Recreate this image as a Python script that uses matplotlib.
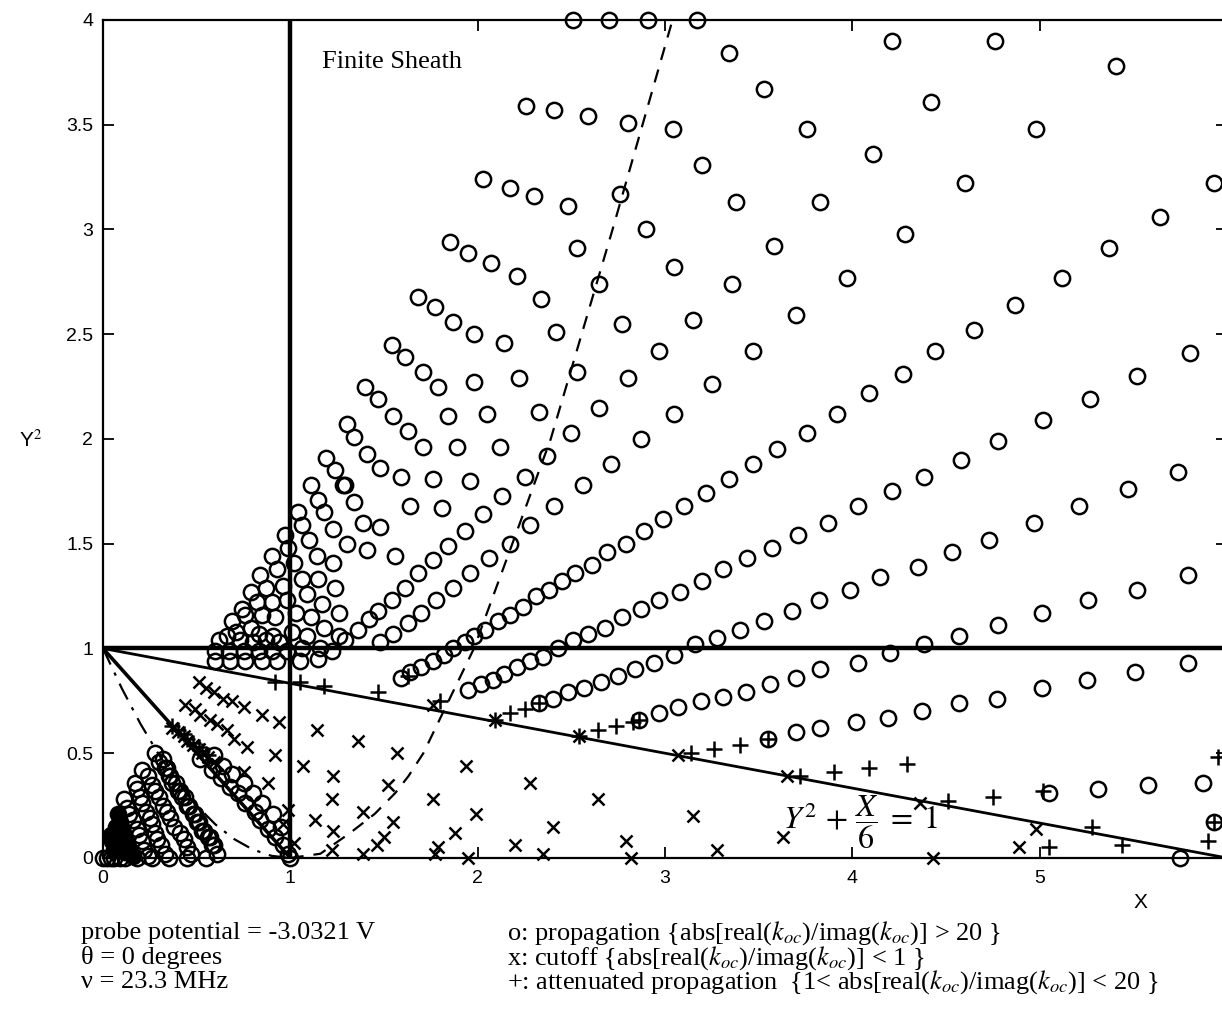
import matplotlib
matplotlib.use("Agg")
import matplotlib.pyplot as plt

plt.rcParams["mathtext.fontset"] = "stix"
SANS = ["Liberation Sans Narrow", "Liberation Sans", "DejaVu Sans"]
SERIF = ["Liberation Serif", "DejaVu Serif"]

# ---- o : propagation, rows rising to the right ----
row0_x = [5.05, 5.31, 5.58, 5.87, 5.93, 5.75]
row0_y = [0.31, 0.33, 0.35, 0.36, 0.17, 0.00]
row1_x = [3.55, 3.70, 3.83, 4.02, 4.19, 4.37, 4.57, 4.77, 5.01, 5.25, 5.51, 5.79]
row1_y = [0.57, 0.60, 0.62, 0.65, 0.67, 0.70, 0.74, 0.76, 0.81, 0.85, 0.89, 0.93]
row2_x = [2.86, 2.97, 3.07, 3.19, 3.31, 3.43, 3.56, 3.70, 3.83, 4.03, 4.20, 4.38,
          4.57, 4.78, 5.01, 5.26, 5.52, 5.79]
row2_y = [0.66, 0.69, 0.72, 0.75, 0.77, 0.79, 0.83, 0.86, 0.90, 0.93, 0.98, 1.02,
          1.06, 1.11, 1.17, 1.23, 1.28, 1.35]
row3_x = [2.33, 2.40, 2.48, 2.57, 2.66, 2.75, 2.84, 2.94, 3.05, 3.16, 3.28, 3.40,
          3.53, 3.68, 3.82, 3.99, 4.15, 4.35, 4.53, 4.73, 4.97, 5.21, 5.47, 5.74]
row3_y = [0.74, 0.76, 0.79, 0.81, 0.84, 0.87, 0.90, 0.93, 0.97, 1.02, 1.05, 1.09,
          1.13, 1.18, 1.23, 1.28, 1.34, 1.39, 1.46, 1.52, 1.60, 1.68, 1.76, 1.84]
row4_x = [1.95, 2.02, 2.08, 2.14, 2.21, 2.28, 2.35, 2.43, 2.51, 2.59, 2.68, 2.77,
          2.87, 2.97, 3.08, 3.20, 3.31, 3.44, 3.57, 3.71, 3.87, 4.03, 4.21, 4.38,
          4.58, 4.78, 5.02, 5.27, 5.52, 5.80]
row4_y = [0.80, 0.83, 0.85, 0.88, 0.91, 0.94, 0.96, 1.00, 1.04, 1.07, 1.10, 1.15,
          1.19, 1.23, 1.27, 1.32, 1.38, 1.43, 1.48, 1.54, 1.60, 1.68, 1.75, 1.82,
          1.90, 1.99, 2.09, 2.19, 2.30, 2.41]
row5_x = [1.59, 1.64, 1.70, 1.76, 1.82, 1.87, 1.93, 1.98, 2.04, 2.11, 2.17, 2.24,
          2.31, 2.38, 2.45, 2.52, 2.61, 2.69, 2.79, 2.89, 2.99, 3.10, 3.22, 3.34,
          3.47, 3.60, 3.76, 3.92, 4.09, 4.27, 4.44, 4.65, 4.87, 5.12, 5.37, 5.64,
          5.93]
row5_y = [0.86, 0.89, 0.91, 0.94, 0.97, 1.00, 1.03, 1.06, 1.09, 1.13, 1.16, 1.20,
          1.25, 1.28, 1.32, 1.36, 1.40, 1.46, 1.50, 1.56, 1.62, 1.68, 1.74, 1.81,
          1.88, 1.95, 2.03, 2.12, 2.22, 2.31, 2.42, 2.52, 2.64, 2.77, 2.91, 3.06,
          3.22]
row6_x = [1.48, 1.55, 1.63, 1.70, 1.78, 1.87, 1.96, 2.06, 2.17, 2.28, 2.41, 2.56,
          2.71, 2.87, 3.05, 3.25, 3.47, 3.70, 3.97, 4.28, 4.60, 4.98, 5.41]
row6_y = [1.03, 1.07, 1.12, 1.17, 1.23, 1.29, 1.36, 1.43, 1.50, 1.59, 1.68, 1.78,
          1.88, 2.00, 2.12, 2.26, 2.42, 2.59, 2.77, 2.98, 3.22, 3.48, 3.78]
row7_x = [1.29, 1.36, 1.42, 1.47, 1.54, 1.61, 1.68, 1.76, 1.84, 1.93, 2.03, 2.13,
          2.25, 2.37, 2.50, 2.65, 2.80, 2.97, 3.15, 3.36, 3.58, 3.83, 4.11, 4.42,
          4.76]
row7_y = [1.04, 1.09, 1.14, 1.18, 1.23, 1.29, 1.36, 1.42, 1.49, 1.56, 1.64, 1.73,
          1.82, 1.92, 2.03, 2.15, 2.29, 2.42, 2.57, 2.74, 2.92, 3.13, 3.36, 3.61,
          3.90]

# ---- o : upper fan, remaining circles ----
fan_x = [2.26, 2.41, 2.59, 2.80, 3.04, 2.03, 2.17, 2.30, 2.48, 2.76, 3.20, 1.85,
         1.95, 2.07, 2.21, 2.34, 2.42, 1.68, 1.77, 1.87, 1.98, 2.14, 1.54, 1.61,
         1.71, 1.79, 1.98, 2.22, 1.40, 3.34, 3.53, 3.76, 3.38, 2.53, 2.90, 3.05,
         2.65, 2.77, 2.53, 1.47, 1.55, 1.63, 1.71, 1.30, 1.34, 1.41, 1.48, 1.59,
         1.76, 1.96, 1.84, 2.05, 2.33, 1.89, 2.12, 1.19, 1.24, 1.29, 1.34, 1.39,
         1.30, 1.41, 1.56, 1.48, 1.64, 1.81, 2.51, 2.70, 2.91, 3.17, 4.21]
fan_y = [3.59, 3.57, 3.54, 3.51, 3.48, 3.24, 3.20, 3.16, 3.11, 3.17, 3.31, 2.94,
         2.89, 2.84, 2.78, 2.67, 2.51, 2.68, 2.63, 2.56, 2.50, 2.46, 2.45, 2.39,
         2.32, 2.25, 2.27, 2.29, 2.25, 3.84, 3.67, 3.48, 3.13, 2.91, 3.00, 2.82,
         2.74, 2.55, 2.32, 2.19, 2.11, 2.04, 1.96, 2.07, 2.01, 1.93, 1.86, 1.82,
         1.81, 1.80, 2.11, 2.12, 2.13, 1.96, 1.96, 1.91, 1.85, 1.78, 1.70, 1.60,
         1.50, 1.47, 1.44, 1.58, 1.68, 1.67, 4.00, 4.00, 4.00, 4.00, 3.90]

# ---- o : dense cluster around X = 1, Y^2 = 1 ----
hub_x = [1.11, 1.28, 1.15, 1.18, 1.23, 1.04, 1.06, 0.97, 1.10, 0.99, 1.14, 1.23,
         0.90, 1.02, 0.93, 1.06, 1.15, 1.24, 0.84, 0.87, 0.96, 0.79, 1.09, 0.82,
         0.90, 0.98, 1.17, 0.74, 1.26, 0.76, 0.85, 0.92, 1.03, 1.11, 0.69, 0.79,
         0.71, 0.83, 0.91, 1.18, 1.26, 0.66, 1.01, 1.09, 0.62, 0.73, 0.80, 0.87,
         0.94, 0.60, 0.67, 0.75, 0.83, 0.90, 0.98, 1.06, 0.60, 0.68, 0.76, 0.85,
         0.93, 1.05, 1.15, 1.22, 1.16]
hub_y = [1.78, 1.78, 1.71, 1.65, 1.57, 1.65, 1.59, 1.54, 1.52, 1.48, 1.44, 1.41,
         1.44, 1.41, 1.38, 1.33, 1.33, 1.29, 1.35, 1.29, 1.30, 1.27, 1.26, 1.22,
         1.22, 1.23, 1.21, 1.19, 1.17, 1.16, 1.16, 1.15, 1.17, 1.15, 1.13, 1.10,
         1.08, 1.07, 1.06, 1.10, 1.06, 1.06, 1.08, 1.06, 1.04, 1.04, 1.03, 1.04,
         1.03, 0.99, 0.99, 0.99, 0.99, 0.99, 0.99, 1.00, 0.94, 0.94, 0.94, 0.94,
         0.94, 0.94, 0.95, 0.99, 1.00]

# ---- o : along Y^2 + X = 1 and near the origin ----
diag_x = [0.52, 0.58, 0.63, 0.68, 0.72, 0.76, 0.81, 0.84, 0.88, 0.92, 0.96, 0.99,
          0.59, 0.64, 0.69, 0.75, 0.80, 0.85, 0.91, 0.95, 1.00]
diag_y = [0.47, 0.42, 0.38, 0.34, 0.31, 0.26, 0.22, 0.18, 0.14, 0.10, 0.06, 0.02,
          0.49, 0.44, 0.40, 0.36, 0.31, 0.26, 0.21, 0.15, 0.00]
band1_x = [0.28, 0.30, 0.33, 0.35, 0.37, 0.40, 0.42, 0.45, 0.48, 0.50, 0.53, 0.56,
           0.58, 0.61, 0.32, 0.34, 0.36, 0.39, 0.41, 0.44, 0.46, 0.49, 0.51, 0.54,
           0.57, 0.59]
band1_y = [0.50, 0.46, 0.43, 0.39, 0.36, 0.32, 0.29, 0.25, 0.21, 0.17, 0.13, 0.10,
           0.06, 0.02, 0.47, 0.43, 0.39, 0.36, 0.32, 0.29, 0.25, 0.21, 0.17, 0.13,
           0.10, 0.06]
band2_x = [0.21, 0.24, 0.26, 0.28, 0.30, 0.32, 0.34, 0.36, 0.38, 0.41, 0.43, 0.45,
           0.47]
band2_y = [0.42, 0.39, 0.35, 0.32, 0.29, 0.25, 0.22, 0.19, 0.15, 0.12, 0.09, 0.05,
           0.02]
band3_x = [0.17, 0.18, 0.20, 0.21, 0.23, 0.25, 0.26, 0.28, 0.29, 0.31, 0.33]
band3_y = [0.36, 0.33, 0.29, 0.26, 0.22, 0.19, 0.16, 0.12, 0.09, 0.06, 0.02]
band4_x = [0.11, 0.13, 0.14, 0.16, 0.18, 0.19, 0.21, 0.22, 0.24]
band4_y = [0.28, 0.24, 0.21, 0.18, 0.14, 0.11, 0.08, 0.04, 0.01]
band5_x = [0.08, 0.09, 0.10, 0.11, 0.13, 0.14, 0.16, 0.04, 0.05, 0.06, 0.07,
           0.08, 0.10, 0.11, 0.12]
band5_y = [0.21, 0.17, 0.14, 0.11, 0.07, 0.04, 0.01, 0.11, 0.08, 0.04, 0.15,
           0.12, 0.09, 0.06, 0.03]
floor_x = [0.00, 0.02, 0.04, 0.06, 0.09, 0.12, 0.18, 0.26, 0.35, 0.45, 0.55]
floor_y = [0.00, 0.00, 0.00, 0.00, 0.00, 0.00, 0.00, 0.00, 0.00, 0.00, 0.00]

# ---- x : cutoff ----
cut_x = [0.51, 0.55, 0.59, 0.64, 0.69, 0.75, 0.85, 0.94,
         0.44, 0.49, 0.52, 0.57, 0.61, 0.66, 0.70, 0.77, 0.92,
         0.37, 0.40, 0.43, 0.45, 0.48, 0.51, 0.53, 0.56, 0.59, 0.61,
         0.75, 0.88, 0.99, 0.96,
         1.14, 1.36, 1.57, 1.07, 1.23, 1.52, 1.22, 1.39, 1.13, 1.55, 1.23, 1.50,
         1.46, 1.39, 1.22, 1.02,
         1.76, 1.94, 2.28, 1.76, 2.64, 1.99, 3.15, 2.40, 1.88, 2.20, 3.63, 2.79,
         1.79, 2.35, 3.28, 1.95, 1.77, 2.82, 3.07, 3.65,
         4.36, 4.98, 4.89, 4.43, 2.09, 2.54]
cut_y = [0.84, 0.81, 0.79, 0.76, 0.75, 0.72, 0.68, 0.65,
         0.73, 0.71, 0.68, 0.66, 0.64, 0.61, 0.57, 0.53, 0.49,
         0.62, 0.60, 0.58, 0.56, 0.54, 0.52, 0.50, 0.48, 0.46, 0.45,
         0.41, 0.36, 0.23, 0.16,
         0.61, 0.56, 0.50, 0.44, 0.39, 0.35, 0.28, 0.22, 0.18, 0.17, 0.13, 0.10,
         0.06, 0.02, 0.04, 0.07,
         0.73, 0.44, 0.36, 0.28, 0.28, 0.21, 0.20, 0.15, 0.12, 0.06, 0.10, 0.08,
         0.05, 0.02, 0.04, 0.00, 0.02, 0.00, 0.49, 0.39,
         0.26, 0.14, 0.05, 0.00, 0.66, 0.58]

# ---- + : attenuated propagation ----
att_x = [0.92, 1.05, 1.18, 1.47, 1.63, 1.80, 2.17, 2.25, 2.33, 2.64, 2.74, 2.83,
         2.86, 3.14, 3.26, 3.40, 3.55, 3.72, 3.90, 4.09, 4.29, 4.51, 4.75, 5.02,
         5.28, 5.44, 5.05, 5.90, 5.93, 5.95, 2.09, 2.54,
         0.37, 0.40, 0.43, 0.45, 0.48, 0.51, 0.53, 0.56]
att_y = [0.84, 0.84, 0.82, 0.79, 0.87, 0.75, 0.69, 0.71, 0.74, 0.61, 0.63, 0.65,
         0.66, 0.50, 0.52, 0.54, 0.57, 0.39, 0.41, 0.43, 0.45, 0.27, 0.29, 0.32,
         0.15, 0.06, 0.05, 0.08, 0.17, 0.48, 0.66, 0.58,
         0.63, 0.61, 0.59, 0.57, 0.55, 0.53, 0.51, 0.49]

# ---- reference curves ----
line6_x = [0, 6]
line6_y = [1, 0]
line1_x = [0, 1]
line1_y = [1, 0]
dashdot_x = [0.0, 0.1, 0.2, 0.3, 0.4, 0.5, 0.6, 0.7, 0.8, 0.9, 1.0]
dashdot_y = [1.0, 0.81, 0.64, 0.49, 0.36, 0.25, 0.16, 0.09, 0.04, 0.01, 0.0]
dashed_x = [1.0, 1.16, 1.32, 1.45, 1.56, 1.63, 1.71, 1.98, 2.39, 2.72, 3.04]
dashed_y = [0.0, 0.02, 0.12, 0.21, 0.31, 0.39, 0.50, 1.00, 2.00, 3.00, 4.00]

xticks = [0, 1, 2, 3, 4, 5, 6]
yticks = [0, 0.5, 1, 1.5, 2, 2.5, 3, 3.5, 4]
ytick_labels = ["0", "0.5", "1", "1.5", "2", "2.5", "3", "3.5", "4"]

fig = plt.figure(figsize=(12.22, 10.09), dpi=100)
ax = fig.add_axes([0.0843, 0.1497, 0.9198, 0.8305])
ax.set_xlim(0, 6)
ax.set_ylim(0, 4)

ax.plot([1, 1], [0, 4], color="k", lw=3.2, zorder=3)
ax.plot([0, 6], [1, 1], color="k", lw=3.2, zorder=3)
ax.plot(line6_x, line6_y, color="k", lw=2.0, zorder=3)
ax.plot(line1_x, line1_y, color="k", lw=2.6, zorder=3)
ax.plot(dashdot_x, dashdot_y, color="k", lw=1.6, dashes=(8, 4, 1.5, 4), zorder=3)
ax.plot(dashed_x, dashed_y, color="k", lw=1.6, dashes=(6, 4.5), zorder=3)

circ = dict(ls="none", marker="o", ms=11, mfc="none", mec="k", mew=1.8,
            clip_on=False, zorder=4)
for xs, ys in [(row0_x, row0_y), (row1_x, row1_y), (row2_x, row2_y),
               (row3_x, row3_y), (row4_x, row4_y), (row5_x, row5_y),
               (row6_x, row6_y), (row7_x, row7_y), (fan_x, fan_y),
               (hub_x, hub_y), (diag_x, diag_y), (band1_x, band1_y),
               (band2_x, band2_y), (band3_x, band3_y), (band4_x, band4_y),
               (floor_x, floor_y)]:
    ax.plot(xs, ys, **circ)
ax.plot(band5_x, band5_y, ls="none", marker="o", ms=11, mfc="k", mec="k",
        mew=1.8, clip_on=False, zorder=4)
ax.plot(cut_x, cut_y, ls="none", marker="x", ms=9, mec="k", mew=1.8,
        clip_on=False, zorder=4)
ax.plot(att_x, att_y, ls="none", marker="+", ms=12, mec="k", mew=1.8,
        clip_on=False, zorder=4)

ax.set_xticks(xticks)
ax.set_xticklabels([str(t) for t in xticks])
ax.set_yticks(yticks)
ax.set_yticklabels(ytick_labels)
ax.tick_params(direction="in", top=True, right=True, length=8, width=1.3,
               labelsize=14)
ax.tick_params(axis="x", pad=9)
ax.tick_params(axis="y", pad=7)
for lab in ax.get_xticklabels() + ax.get_yticklabels():
    lab.set_family(SANS)
for sp in ax.spines.values():
    sp.set_linewidth(1.6)

ax.text(0.195, 0.95, "Finite Sheath", transform=ax.transAxes, family=SERIF,
        fontsize=19, va="center", ha="left")
ax.text(3.63, 0.17, r"$Y^2\,+\,\dfrac{X}{6}\;=\;1$", fontsize=23, va="center",
        ha="left", zorder=5)

fig.text(0.025, 0.564, r"Y$^2$", family=SANS, fontsize=15, ha="center",
         va="center")
fig.text(0.933, 0.106, "X", family=SANS, fontsize=15, ha="center", va="center")

left_lines = ["probe potential = -3.0321 V", "\u03b8 = 0 degrees",
              "\u03bd = 23.3 MHz"]
right_lines = [r"o: propagation {abs[real($k_{oc}$)/imag($k_{oc}$)] > 20 }",
               r"x: cutoff {abs[real($k_{oc}$)/imag($k_{oc}$)] < 1 }",
               r"+: attenuated propagation  {1< abs[real($k_{oc}$)/imag($k_{oc}$)] < 20 }"]
for i, (a, b) in enumerate(zip(left_lines, right_lines)):
    yy = 0.0752 - i * 0.0244
    fig.text(0.066, yy, a, family=SERIF, fontsize=19, ha="left", va="center")
    fig.text(0.415, yy, b, family=SERIF, fontsize=19, ha="left", va="center")

fig.savefig("out.png", dpi=100)
